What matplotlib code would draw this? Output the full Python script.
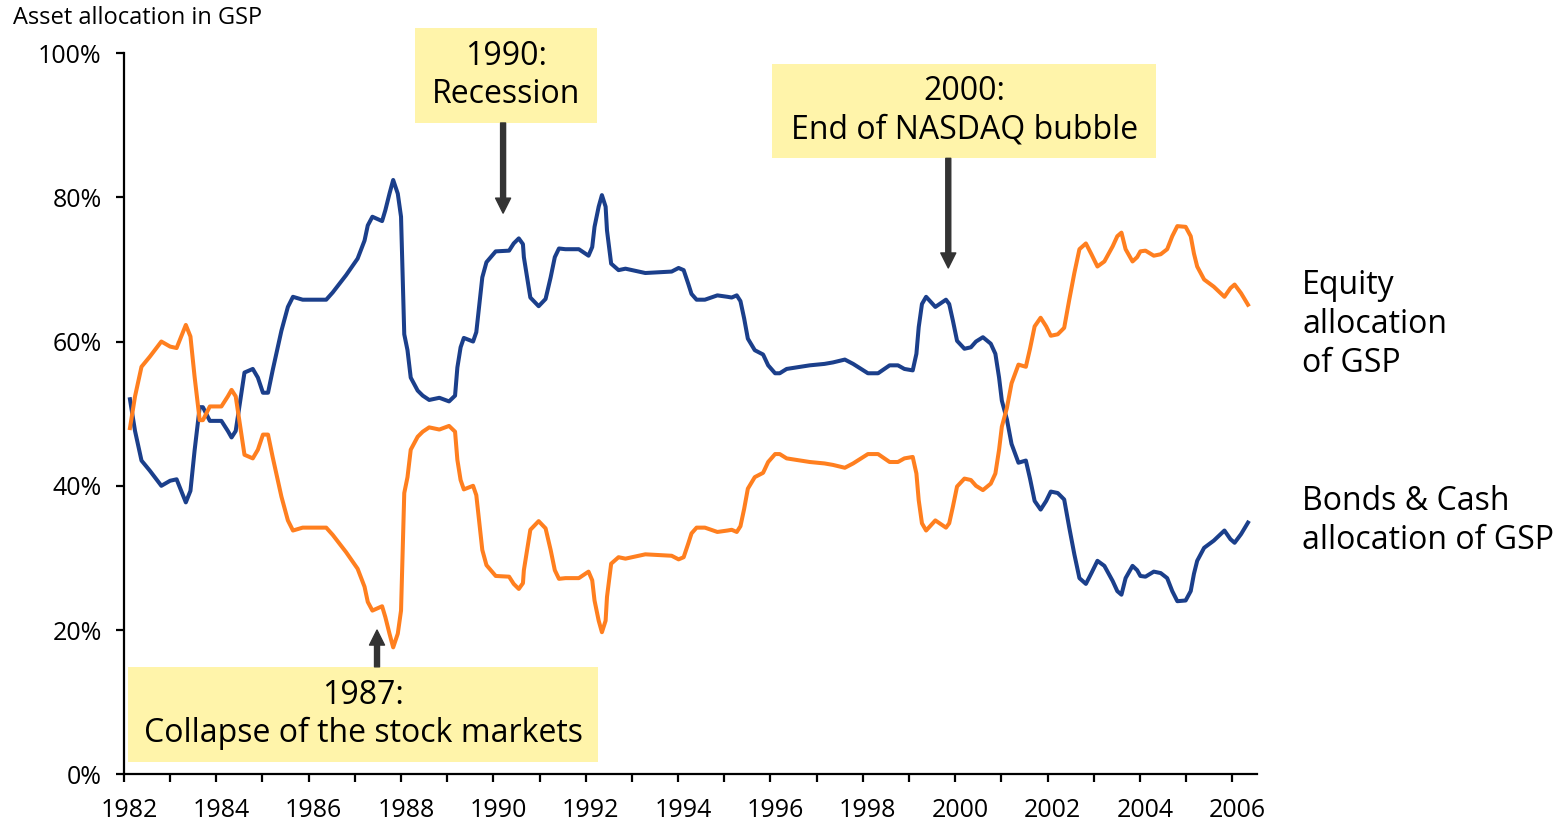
import matplotlib.pyplot as plt
import matplotlib.patches as patches
import matplotlib.transforms as mtransforms
from matplotlib.ticker import MultipleLocator, FuncFormatter

plt.rcParams['font.family'] = ['Open Sans', 'DejaVu Sans']

years = [
    1982.13, 1982.24, 1982.38, 1982.56, 1982.81, 1983.00, 1983.14, 1983.34, 1983.44, 1983.53,
    1983.64, 1983.71, 1983.86, 1984.11, 1984.25, 1984.33, 1984.42, 1984.51, 1984.61, 1984.79,
    1984.90, 1985.01, 1985.12, 1985.22, 1985.30, 1985.41, 1985.55, 1985.66, 1985.87, 1986.38,
    1986.52, 1986.81, 1987.06, 1987.21, 1987.28, 1987.38, 1987.59, 1987.66, 1987.75, 1987.83,
    1987.93, 1988.00, 1988.03, 1988.07, 1988.14, 1988.21, 1988.36, 1988.47, 1988.61, 1988.83,
    1989.04, 1989.17, 1989.22, 1989.29, 1989.36, 1989.56, 1989.63, 1989.69, 1989.76, 1989.85,
    1990.05, 1990.34, 1990.44, 1990.55, 1990.64, 1990.66, 1990.73, 1990.80, 1990.98, 1991.13,
    1991.24, 1991.33, 1991.42, 1991.56, 1991.85, 1992.06, 1992.14, 1992.19, 1992.28, 1992.35,
    1992.43, 1992.46, 1992.55, 1992.71, 1992.86, 1993.29, 1993.57, 1993.86, 1994.01, 1994.12,
    1994.22, 1994.29, 1994.40, 1994.58, 1994.85, 1995.07, 1995.16, 1995.27, 1995.35, 1995.43,
    1995.51, 1995.66, 1995.84, 1995.95, 1996.10, 1996.20, 1996.35, 1996.85, 1997.17, 1997.35,
    1997.61, 1997.79, 1998.11, 1998.33, 1998.58, 1998.76, 1998.90, 1999.08, 1999.16, 1999.21,
    1999.28, 1999.37, 1999.57, 1999.80, 1999.87, 1999.95, 2000.04, 2000.20, 2000.34, 2000.45,
    2000.60, 2000.77, 2000.87, 2000.95, 2001.01, 2001.12, 2001.22, 2001.37, 2001.53, 2001.62,
    2001.72, 2001.85, 2001.97, 2002.07, 2002.22, 2002.36, 2002.47, 2002.58, 2002.69, 2002.83,
    2002.95, 2003.08, 2003.23, 2003.41, 2003.51, 2003.60, 2003.69, 2003.84, 2003.94, 2004.01,
    2004.12, 2004.30, 2004.45, 2004.59, 2004.70, 2004.81, 2004.99, 2005.10, 2005.17, 2005.24,
    2005.39, 2005.60, 2005.83, 2005.96, 2006.05, 2006.19, 2006.34,
]

# equity share of the portfolio (%)
equity = [
    52.0, 47.6, 43.5, 42.1, 40.0, 40.7, 40.9, 37.7, 39.3, 44.9,
    50.9, 50.9, 49.0, 49.0, 47.6, 46.7, 47.6, 51.4, 55.7, 56.2,
    55.0, 52.9, 52.9, 56.0, 58.3, 61.5, 64.8, 66.2, 65.8, 65.8,
    66.8, 69.2, 71.5, 74.0, 76.1, 77.3, 76.7, 78.2, 80.5, 82.4,
    80.5, 77.3, 70.3, 61.0, 58.8, 55.0, 53.2, 52.5, 51.9, 52.2,
    51.7, 52.5, 56.4, 59.2, 60.5, 60.0, 61.3, 64.8, 68.9, 71.0,
    72.5, 72.6, 73.6, 74.3, 73.5, 71.7, 68.9, 66.1, 64.9, 65.9,
    68.9, 71.7, 72.9, 72.8, 72.8, 71.9, 73.1, 75.9, 78.7, 80.3,
    78.7, 75.4, 70.8, 69.9, 70.1, 69.5, 69.6, 69.7, 70.2, 69.9,
    68.0, 66.6, 65.8, 65.8, 66.4, 66.2, 66.1, 66.4, 65.6, 63.2,
    60.4, 58.8, 58.2, 56.7, 55.6, 55.6, 56.2, 56.7, 56.9, 57.1,
    57.5, 56.9, 55.6, 55.6, 56.7, 56.7, 56.2, 56.0, 58.3, 62.0,
    65.2, 66.2, 64.8, 65.8, 65.2, 62.9, 60.1, 59.0, 59.2, 60.0,
    60.6, 59.7, 58.3, 55.0, 51.8, 49.2, 45.8, 43.2, 43.5, 41.0,
    37.9, 36.7, 37.9, 39.2, 39.0, 38.1, 34.2, 30.5, 27.2, 26.4,
    27.9, 29.6, 28.9, 26.8, 25.4, 24.9, 27.2, 28.9, 28.3, 27.5,
    27.4, 28.1, 27.9, 27.2, 25.4, 24.0, 24.1, 25.4, 27.8, 29.6,
    31.4, 32.4, 33.8, 32.6, 32.1, 33.3, 34.9,
]

# bonds & cash share (%)
bonds = [
    48.0, 52.4, 56.5, 57.9, 60.0, 59.3, 59.1, 62.3, 60.7, 55.1,
    49.1, 49.1, 51.0, 51.0, 52.4, 53.3, 52.4, 48.6, 44.3, 43.8,
    45.0, 47.1, 47.1, 44.0, 41.7, 38.5, 35.2, 33.8, 34.2, 34.2,
    33.2, 30.8, 28.5, 26.0, 23.9, 22.7, 23.3, 21.8, 19.5, 17.6,
    19.5, 22.7, 29.7, 39.0, 41.2, 45.0, 46.8, 47.5, 48.1, 47.8,
    48.3, 47.5, 43.6, 40.8, 39.5, 40.0, 38.7, 35.2, 31.1, 29.0,
    27.5, 27.4, 26.4, 25.7, 26.5, 28.3, 31.1, 33.9, 35.1, 34.1,
    31.1, 28.3, 27.1, 27.2, 27.2, 28.1, 26.9, 24.1, 21.3, 19.7,
    21.3, 24.6, 29.2, 30.1, 29.9, 30.5, 30.4, 30.3, 29.8, 30.1,
    32.0, 33.4, 34.2, 34.2, 33.6, 33.8, 33.9, 33.6, 34.4, 36.8,
    39.6, 41.2, 41.8, 43.3, 44.4, 44.4, 43.8, 43.3, 43.1, 42.9,
    42.5, 43.1, 44.4, 44.4, 43.3, 43.3, 43.8, 44.0, 41.7, 38.0,
    34.8, 33.8, 35.2, 34.2, 34.8, 37.1, 39.9, 41.0, 40.8, 40.0,
    39.4, 40.3, 41.7, 45.0, 48.2, 50.8, 54.2, 56.8, 56.5, 59.0,
    62.1, 63.3, 62.1, 60.8, 61.0, 61.9, 65.8, 69.5, 72.8, 73.6,
    72.1, 70.4, 71.1, 73.2, 74.6, 75.1, 72.8, 71.1, 71.7, 72.5,
    72.6, 71.9, 72.1, 72.8, 74.6, 76.0, 75.9, 74.6, 72.2, 70.4,
    68.6, 67.6, 66.2, 67.4, 67.9, 66.7, 65.1,
]

# event annotations: (text, box x0, box x1, box y0, box y1, arrow x, arrow tail y, arrow tip y)
events = [
    ("1990:\nRecession", 1988.30, 1992.24, 90.3, 103.5, 1990.21, 90.3, 77.8),
    ("2000:\nEnd of NASDAQ bubble", 1996.04, 2004.35, 85.4, 98.5, 1999.85, 85.4, 70.2),
    ("1987:\nCollapse of the stock markets", 1982.09, 1992.27, 1.7, 14.9, 1987.48, 14.9, 20.0),
]

blue = '#1b3f8b'
orange = '#ff7f1f'
box_color = '#fff4aa'
arrow_color = '#333333'

fig = plt.figure(figsize=(15.61, 8.27), dpi=100)
ax = fig.add_axes([0.0794, 0.0637, 0.7257, 0.8722])

ax.plot(years, equity, color=blue, lw=2.9, solid_joinstyle='round')
ax.plot(years, bonds, color=orange, lw=2.9, solid_joinstyle='round')

ax.set_xlim(1982, 2006.53)
ax.set_ylim(0, 100)

ax.spines['top'].set_visible(False)
ax.spines['right'].set_visible(False)
for s in ['left', 'bottom']:
    ax.spines[s].set_linewidth(1.6)

ax.xaxis.set_major_locator(MultipleLocator(1))
ax.xaxis.set_major_formatter(FuncFormatter(lambda v, p: f'{int(round(v))}' if int(round(v)) % 2 == 0 else ''))
ax.yaxis.set_major_locator(MultipleLocator(20))
ax.yaxis.set_major_formatter(FuncFormatter(lambda v, p: f'{int(v)}%'))
ax.tick_params(axis='both', direction='out', length=6, width=1.6, labelsize=18)
ax.tick_params(axis='x', pad=11)
ax.tick_params(axis='y', pad=10)

offset = mtransforms.ScaledTranslation(5 / 100, 0, fig.dpi_scale_trans)
for lbl in ax.get_xticklabels():
    lbl.set_transform(lbl.get_transform() + offset)

for text, x0, x1, y0, y1, ax_x, tail, tip in events:
    ax.add_patch(patches.Rectangle((x0, y0), x1 - x0, y1 - y0, facecolor=box_color,
                                   edgecolor='none', clip_on=False, zorder=3))
    ax.text((x0 + x1) / 2, (y0 + y1) / 2, text, ha='center', va='center', fontsize=23,
            linespacing=1.22, zorder=4, clip_on=False)
    ax.annotate('', xy=(ax_x, tip), xytext=(ax_x, tail),
                arrowprops=dict(arrowstyle='simple,head_length=0.9,head_width=0.9,tail_width=0.3',
                                color=arrow_color, mutation_scale=12, shrinkA=0, shrinkB=0),
                zorder=4, annotation_clip=False)

ax.text(2007.51, 62.3, 'Equity\nallocation\nof GSP', ha='left', va='center', fontsize=23,
        linespacing=1.24, clip_on=False)
ax.text(2007.51, 35.1, 'Bonds & Cash\nallocation of GSP', ha='left', va='center', fontsize=23,
        linespacing=1.24, clip_on=False)

fig.text(13 / 1561, 1 - 18 / 827, 'Asset allocation in GSP', ha='left', va='center', fontsize=17)

fig.savefig('out.png', dpi=100)
